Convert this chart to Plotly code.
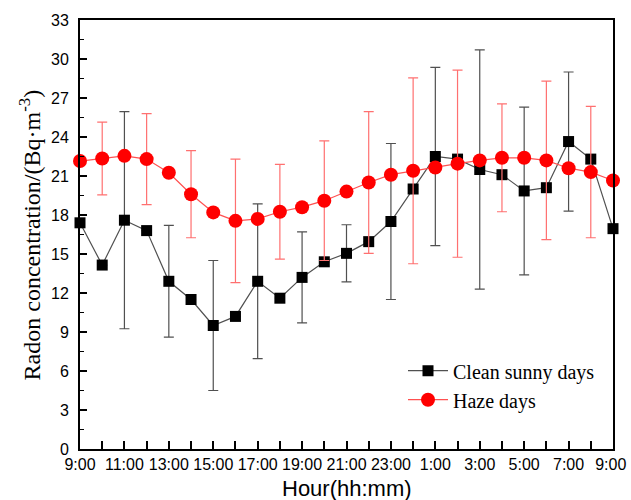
import plotly.graph_objects as go

hours = ["9:00", "10:00", "11:00", "12:00", "13:00", "14:00", "15:00", "16:00", "17:00",
         "18:00", "19:00", "20:00", "21:00", "22:00", "23:00", "0:00", "1:00", "2:00",
         "3:00", "4:00", "5:00", "6:00", "7:00", "8:00", "9:00 "]
x_pos = list(range(len(hours)))

clean_mean = [17.4, 14.15, 17.6, 16.8, 12.9, 11.5, 9.5, 10.2, 12.9, 11.6, 13.2, 14.4, 15.05,
              15.95, 17.5, 20.0, 22.5, 22.3, 21.5, 21.1, 19.85, 20.1, 23.65, 22.3, 16.95]
clean_err = [None, None, 8.35, None, 4.3, None, 5.0, None, 5.95, None, 3.5, None, 2.2,
             None, 6.0, None, 6.85, None, 9.2, None, 6.45, None, 5.35, None, None]

haze_mean = [22.15, 22.35, 22.55, 22.3, 21.25, 19.6, 18.2, 17.55, 17.7, 18.25, 18.6, 19.1, 19.8,
             20.5, 21.1, 21.4, 21.65, 21.95, 22.2, 22.4, 22.4, 22.2, 21.6, 21.3, 20.65]
haze_err = [None, 2.8, None, 3.5, None, 3.35, None, 4.75, None, 3.65, None, 4.6, None,
            5.45, None, 7.15, None, 7.2, None, 4.15, None, 6.1, None, 5.05, None]

x_title = "Hour(hh:mm)"
y_title = "Radon concentration/(Bq·m<sup>-3</sup>)"

major_vals = [x for x in x_pos if x % 2 == 0]
major_text = [hours[x] for x in major_vals]
minor_vals = [x for x in x_pos if x % 2 == 1]

fig = go.Figure()
fig.add_trace(go.Scatter(
    x=x_pos, y=clean_mean, name="Clean sunny days", mode="lines+markers",
    line=dict(color="#505050", width=1.2),
    marker=dict(symbol="square", size=11, color="black"),
    error_y=dict(type="data", array=clean_err, visible=True, color="#505050",
                 thickness=1.2, width=5),
    cliponaxis=False,
))
fig.add_trace(go.Scatter(
    x=x_pos, y=haze_mean, name="Haze days", mode="lines+markers",
    line=dict(color="#ff5050", width=1.2),
    marker=dict(symbol="circle", size=14, color="#ff0000"),
    error_y=dict(type="data", array=haze_err, visible=True, color="#ff7070",
                 thickness=1.2, width=5),
    cliponaxis=False,
))

fig.update_layout(
    width=631, height=500,
    margin=dict(l=80, r=18, t=20, b=51, autoexpand=False),
    paper_bgcolor="white", plot_bgcolor="white",
    showlegend=True,
    legend=dict(x=0.606, y=0.228, xanchor="left", yanchor="top",
                font=dict(family="Liberation Serif, Times New Roman, serif", size=20, color="black"),
                bgcolor="rgba(255,255,255,0)", itemwidth=40, tracegroupgap=0),
    font=dict(family="Liberation Sans, Arial, sans-serif", color="black"),
)
fig.update_xaxes(
    range=[0, 24], tickmode="array", tickvals=major_vals, ticktext=major_text,
    ticks="inside", ticklen=8, tickwidth=1.5, tickcolor="black",
    minor=dict(tickmode="array", tickvals=minor_vals, ticks="inside", ticklen=8,
               tickwidth=1.5, tickcolor="black", showgrid=False),
    showline=True, linecolor="black", linewidth=2, mirror=True,
    showgrid=False, zeroline=False, automargin=False,
    tickfont=dict(size=16, family="Liberation Sans, Arial, sans-serif"),
)
fig.update_yaxes(
    range=[0, 33], tickmode="linear", tick0=0, dtick=3,
    ticks="inside", ticklen=7, tickwidth=1.5, tickcolor="black",
    minor=dict(ticks="inside", ticklen=4, dtick=1.5, tickcolor="black", tickwidth=1.2,
               showgrid=False),
    showline=True, linecolor="black", linewidth=2, mirror=True,
    showgrid=False, zeroline=False, ticklabelstandoff=6, automargin=False,
    tickfont=dict(size=16, family="Liberation Sans, Arial, sans-serif"),
)

fig.add_annotation(
    text=x_title, xref="paper", yref="paper", x=0.5, y=-0.091,
    xanchor="center", yanchor="middle", showarrow=False,
    font=dict(size=22, family="Liberation Sans, Arial, sans-serif", color="black"),
)
fig.add_annotation(
    text=y_title, xref="paper", yref="paper", x=-0.094, y=0.5, textangle=-90,
    xanchor="center", yanchor="middle", showarrow=False,
    font=dict(size=24, family="Liberation Serif, Times New Roman, serif", color="black"),
)

fig.write_html("out.html", config={"displayModeBar": False},
               post_script="document.body.style.margin='0px';")
